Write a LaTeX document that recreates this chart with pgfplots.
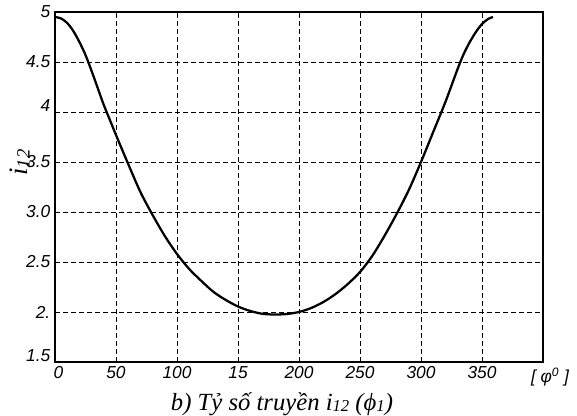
\documentclass[border=0pt]{standalone}
\usepackage{pgfplots}
\pgfplotsset{compat=1.18}
\usepackage{fontspec}
\setmainfont{Liberation Serif}
\newfontfamily\arial{Liberation Sans}
\begin{document}
\begin{tikzpicture}
\useasboundingbox (0,0) rectangle (432.75pt,312pt);
\begin{axis}[
  at={(41.25pt,40.5pt)}, anchor=south west,
  scale only axis, width=366pt, height=262.5pt,
  xmin=0, xmax=400, ymin=1.5, ymax=5,
  xtick={0,50,100,150,200,250,300,350},
  xticklabels={\hspace*{5pt}0,50,100,15,200,250,300,350},
  ytick={1.5,2,2.5,3,3.5,4,4.5,5},
  yticklabels={\raisebox{9pt}{1.5},2.,2.5,3.0,3.5,\raisebox{10pt}{4},4.5,5},
  /pgf/number format/assume math mode=true,
  tick label style={font=\arial\itshape\fontsize{13}{15}\selectfont},
  xticklabel style={yshift=0pt},
  yticklabel style={xshift=0pt},
  major tick length=0pt,
  grid=major,
  major grid style={black, line width=0.6pt, dash pattern=on 3.5pt off 2.5pt},
  axis line style={black, line width=1.1pt},
  clip=false,
]
\addplot[black, line width=1.7pt, smooth] coordinates {
(0,4.95) (5,4.935) (10,4.89) (15,4.81) (20,4.70) (25,4.57) (30,4.41) (35,4.24)
(40,4.07) (45,3.92) (50,3.77) (60,3.48) (70,3.20) (80,2.97) (90,2.76)
(100,2.58) (110,2.43) (120,2.31) (130,2.20) (140,2.12) (150,2.055)
(160,2.01) (170,1.982) (180,1.975) (190,1.98) (200,2.00) (210,2.04)
(220,2.10) (230,2.18) (240,2.28) (250,2.40) (260,2.56) (270,2.76)
(280,2.98) (290,3.22) (300,3.50) (310,3.80) (320,4.10) (330,4.43)
(335,4.58) (340,4.70) (345,4.80) (350,4.88) (355,4.93) (359,4.95)
};
\end{axis}
\node[rotate=90, font=\itshape\fontsize{20}{22}\selectfont] at (15pt,190pt) {i\raisebox{-0.15ex}{\fontsize{14}{16}\selectfont 12}};
\node[font=\itshape\fontsize{18.5}{20}\selectfont] at (211.5pt,9pt) {b) Tỷ số truyền i\raisebox{-0.1ex}{\fontsize{12.5}{14}\selectfont 12} (ϕ\raisebox{-0.1ex}{\fontsize{12.5}{14}\selectfont 1})};
\node[font=\arial\itshape\fontsize{13}{15}\selectfont] at (412.5pt,29.25pt) {[ φ\textsuperscript{0} ]};
\end{tikzpicture}
\end{document}
